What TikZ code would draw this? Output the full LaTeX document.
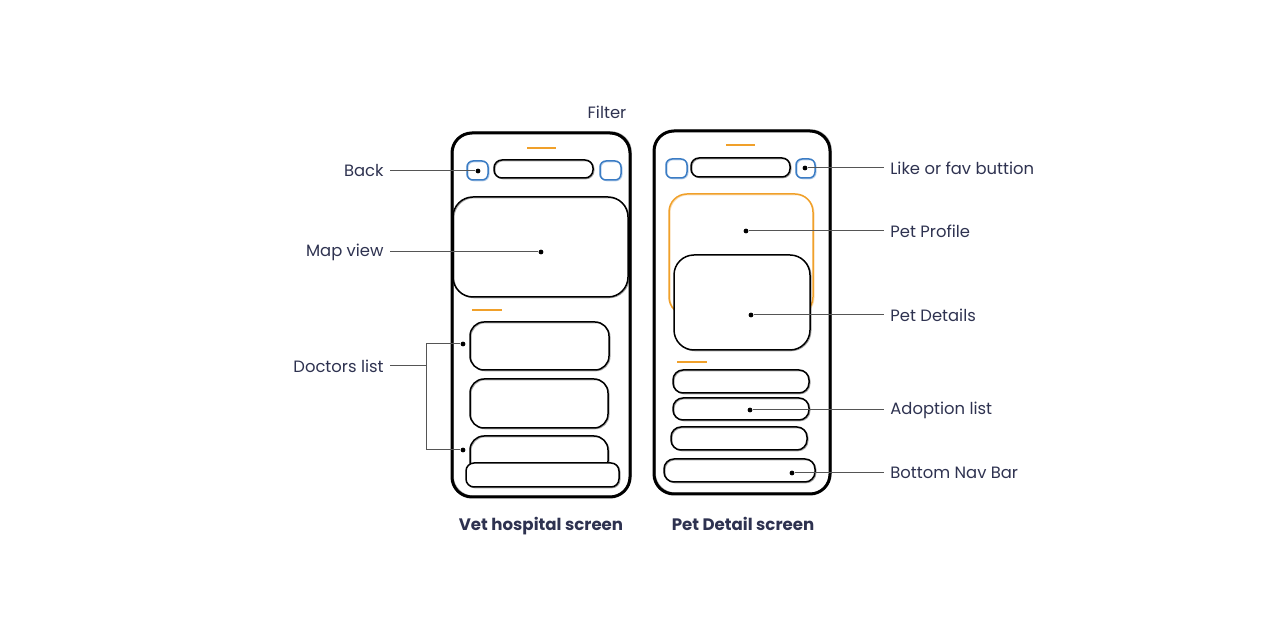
\documentclass[tikz,border=0pt]{standalone}
\usepackage{fontspec}
\setmainfont{Poppins}
\begin{document}
\definecolor{ink}{HTML}{2E3250}
\definecolor{wire}{HTML}{555555}
\definecolor{uiblue}{HTML}{3B7CC4}
\definecolor{uiorange}{HTML}{F0A02A}
\newcommand\uibox[6]{\node[#6, minimum width={(#4-#2)*0.5pt}, minimum height={(#5-#3)*0.5pt}] (#1) at ({(#2+#4)/2},{(#3+#5)/2}) {};}
\begin{tikzpicture}[x=0.5pt,y=-0.5pt,
  sketch/.style={draw, rectangle, inner sep=0pt, line width=0.75pt, rounded corners=#1,
    preaction={draw, opacity=0.35, line width=0.5pt, transform canvas={shift={(0.5pt,-0.4pt)}}}},
  sketch/.default=5pt,
  phone/.style={draw, rectangle, inner sep=0pt, line width=1.5pt, rounded corners=10pt,
    preaction={draw, opacity=0.3, line width=0.6pt, transform canvas={shift={(0.6pt,0.5pt)}}}},
  bluebtn/.style={sketch=3pt, draw=uiblue},
  orangebox/.style={sketch=9pt, draw=uiorange},
  accent/.style={draw=uiorange, line width=0.8pt},
  dot/.style={circle, fill=black, inner sep=0pt, minimum size=2.4pt},
  lbl/.style={text=ink, font=\fontsize{8.2}{10}\selectfont, inner sep=3pt},
  captext/.style={text=ink, font=\fontsize{8.3}{10}\selectfont\bfseries, inner sep=0pt, anchor=base},
  conn/.style={draw=wire, line width=0.5pt}]
\useasboundingbox (0,0) rectangle (1280,640);

% ---- Vet hospital screen ----
\uibox{vphone}{452}{133}{630}{497}{phone}
\coordinate (vbarA) at (527,148); \coordinate (vbarB) at (556,148);
\draw[accent] (vbarA) -- (vbarB);
\uibox{vback}{467}{161}{488}{180}{bluebtn}
\uibox{vsearch}{494}{160}{593}{178}{sketch=4pt}
\uibox{vfilter}{600}{161}{621}{180}{bluebtn}
\uibox{vmap}{453}{197}{628}{297}{sketch=10pt}
\coordinate (vlineA) at (472,310); \coordinate (vlineB) at (502,310);
\draw[accent] (vlineA) -- (vlineB);
\uibox{vcard1}{470}{322}{609}{370}{sketch=7pt}
\uibox{vcard2}{470}{379}{608}{428}{sketch=7pt}
\uibox{vcard3}{470}{436}{608}{475}{sketch=7pt}
\uibox{vnav}{466}{463}{619}{487}{sketch=4pt, fill=white}

% ---- Pet Detail screen ----
\uibox{pphone}{654}{131}{830}{494}{phone}
\coordinate (pbarA) at (726,145); \coordinate (pbarB) at (755,145);
\draw[accent] (pbarA) -- (pbarB);
\uibox{pleft}{666}{159}{687}{178}{bluebtn}
\uibox{psearch}{691}{158}{790}{177}{sketch=4pt}
\uibox{pfav}{796}{159}{815}{178}{bluebtn}
\uibox{pprofile}{669}{194}{813}{315}{orangebox}
\uibox{pdetails}{674}{255}{810}{350}{sketch=10pt, fill=white}
\coordinate (plineA) at (677,362); \coordinate (plineB) at (707,362);
\draw[accent] (plineA) -- (plineB);
\uibox{prow1}{673}{370}{809}{393}{sketch=5pt}
\uibox{prow2}{673}{398}{809}{420}{sketch=5pt}
\uibox{prow3}{671}{427}{807}{450}{sketch=5pt}
\uibox{pnav}{664}{459}{815}{482}{sketch=5pt}

% ---- anchor dots ----
\node[dot] (dback) at (478,171) {};
\node[dot] (dmap) at (541,252) {};
\node[dot] (ddoc1) at (463,344) {};
\node[dot] (ddoc2) at (463,450) {};
\node[dot] (dfav) at (805,168) {};
\node[dot] (dprof) at (746,231) {};
\node[dot] (ddet) at (751,315) {};
\node[dot] (dadopt) at (750,410) {};
\node[dot] (dnav) at (792,473) {};

% ---- labels ----
\node[lbl] (tfilter) at (607,112) {Filter};
\node[lbl, anchor=east] (tback) at (390,171) {Back};
\node[lbl, anchor=east] (tmap) at (390,252) {Map view};
\node[lbl, anchor=east] (tdoc) at (390,366) {Doctors list};
\node[lbl, anchor=west] (tfav) at (884,168) {Like or fav buttion};
\node[lbl, anchor=west] (tprof) at (884,231) {Pet Profile};
\node[lbl, anchor=west] (tdet) at (884,315) {Pet Details};
\node[lbl, anchor=west] (tadopt) at (884,410) {Adoption list};
\node[lbl, anchor=west] (tnav) at (884,473) {Bottom Nav Bar};
\node[captext] (cvet) at (541,531) {Vet hospital screen};
\node[captext] (cpet) at (743,531) {Pet Detail screen};

% ---- connectors ----
\coordinate (brk) at (426,366);
\draw[conn] (tback.east) -- (dback);
\draw[conn] (tmap.east) -- (dmap);
\draw[conn] (tdoc.east) -- (brk);
\draw[conn] (ddoc1) -- (ddoc1 -| brk) -- (ddoc2 -| brk) -- (ddoc2);
\draw[conn] (dfav) -- (tfav.west);
\draw[conn] (dprof) -- (tprof.west);
\draw[conn] (ddet) -- (tdet.west);
\draw[conn] (dadopt) -- (tadopt.west);
\draw[conn] (dnav) -- (tnav.west);
\end{tikzpicture}
\end{document}
